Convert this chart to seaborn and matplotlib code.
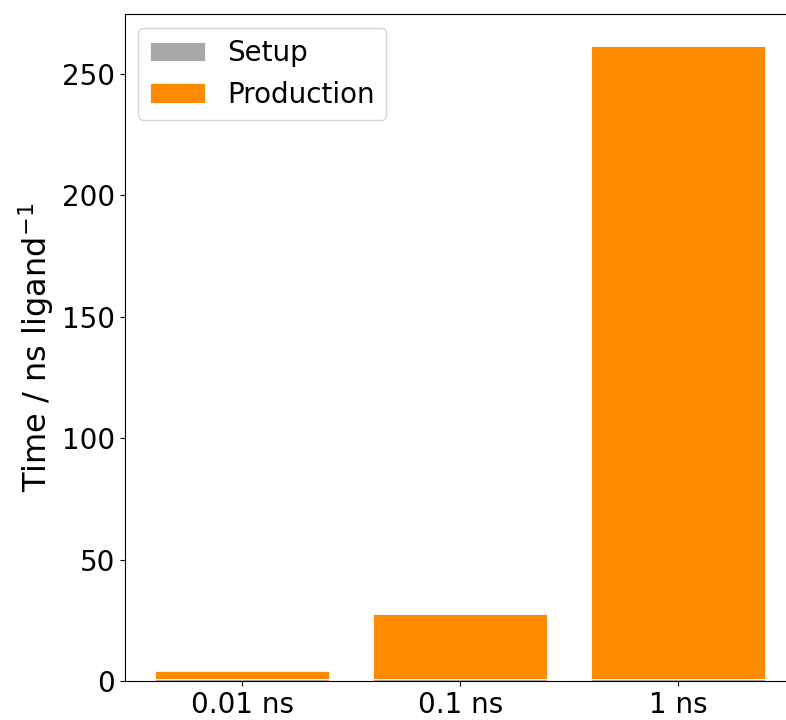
import matplotlib
matplotlib.use("Agg")
import matplotlib.pyplot as plt
import seaborn as sns
import pandas as pd
import numpy as np

categories = ["0.01 ns", "0.1 ns", "1 ns"]
setup = [1.0, 1.0, 1.0]
production = [3.1, 26.6, 260.5]

df = pd.DataFrame({"cat": categories, "setup": setup, "production": production})

fig = plt.figure(figsize=(7.86, 7.2), dpi=100)
ax = fig.add_axes([0.1585, 0.0542, 0.854, 0.9264])

sns.barplot(data=df, x="cat", y="setup", color="darkgrey", saturation=1, width=0.8,
            edgecolor="white", linewidth=0.6, label="Setup", ax=ax)
sns.barplot(data=df, x="cat", y="production", color="darkorange", saturation=1, width=0.8,
            bottom=df["setup"].values, edgecolor="white", linewidth=0.6,
            label="Production", ax=ax)

ax.set_xlim(-0.54, 2.54)
ax.set_ylim(0, 274.6)
ax.set_xlabel("")
ax.set_ylabel("Time / ns ligand$^{-1}$", fontsize=23)
ax.tick_params(labelsize=20)
ax.spines["right"].set_visible(False)
ax.legend(loc="upper left", fontsize=20, handlelength=2.0)

fig.savefig("out.png", dpi=100)
